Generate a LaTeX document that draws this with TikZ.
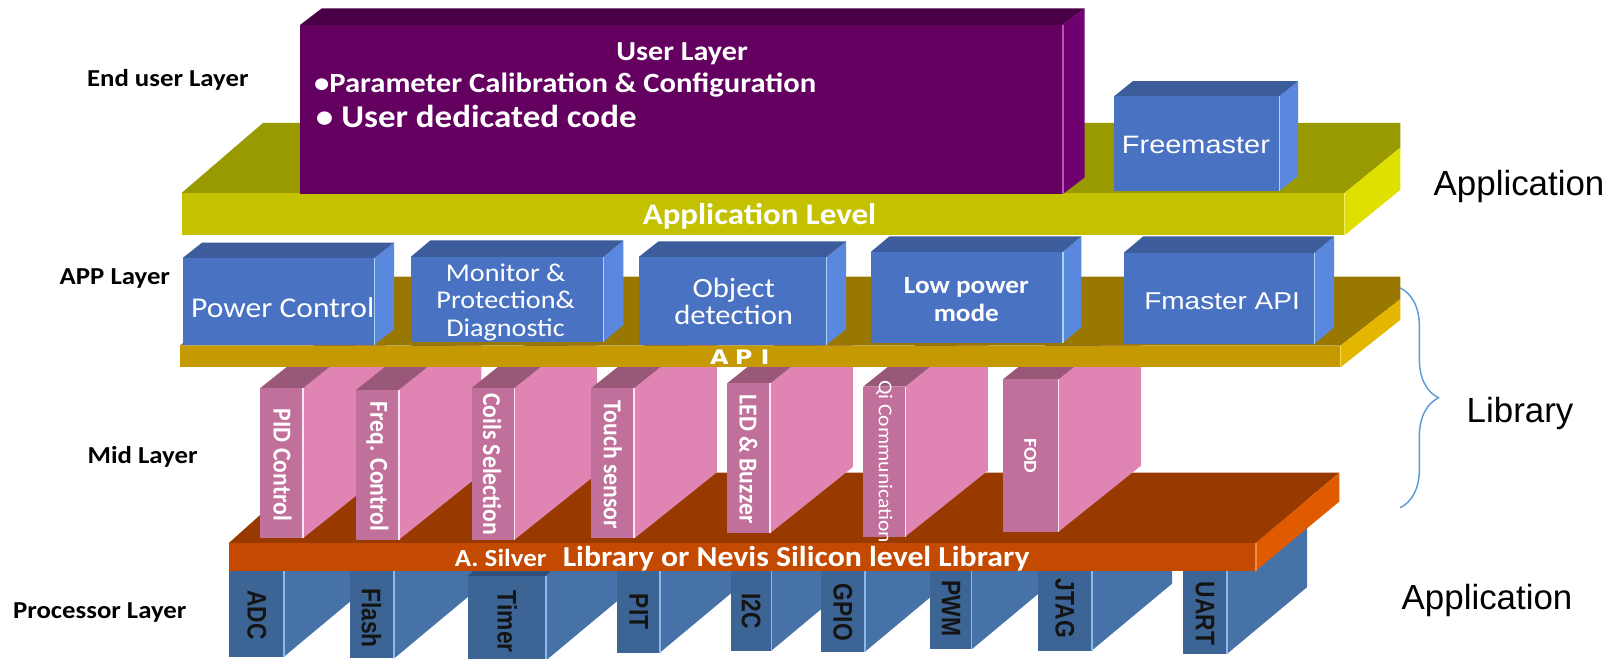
\documentclass[tikz,border=0pt]{standalone}
\usepackage{fontspec}
\setmainfont{Carlito}
\newfontfamily\calw[FakeStretch=1.1]{Carlito}
\newfontfamily\caln[FakeStretch=0.92]{Carlito}
\newfontfamily\ariw[FakeStretch=1.15]{Liberation Sans}
\newfontfamily\arin[FakeStretch=0.85]{Liberation Sans}
\newfontfamily\ari{Liberation Sans}
\newfontfamily\dejw[FakeStretch=1.2]{DejaVu Sans}
\usetikzlibrary{decorations.pathreplacing}

% face colours: front / top / side / front-right edge highlight
\definecolor{procF}{HTML}{3C6494}\definecolor{procT}{HTML}{2F5078}
\definecolor{procS}{HTML}{4672A8}\definecolor{procE}{HTML}{8DB8E8}
\definecolor{orF}{HTML}{C34A00}\definecolor{orT}{HTML}{983A00}
\definecolor{orS}{HTML}{E05A00}\definecolor{orE}{HTML}{F08A40}
\definecolor{pinkF}{HTML}{C0709A}\definecolor{pinkT}{HTML}{9A5878}
\definecolor{pinkS}{HTML}{E085B3}\definecolor{pinkE}{HTML}{FFE6F5}
\definecolor{apiF}{HTML}{C49A00}\definecolor{apiT}{HTML}{987800}
\definecolor{apiS}{HTML}{E4B600}\definecolor{apiE}{HTML}{F5D850}
\definecolor{bluF}{HTML}{4A72C2}\definecolor{bluT}{HTML}{3C5C9C}
\definecolor{bluS}{HTML}{5A88DE}\definecolor{bluE}{HTML}{A8D4F4}
\definecolor{yelF}{HTML}{C4C200}\definecolor{yelT}{HTML}{999900}
\definecolor{yelS}{HTML}{E0E000}\definecolor{yelE}{HTML}{EEEE60}
\definecolor{purF}{HTML}{640060}\definecolor{purT}{HTML}{4A0046}
\definecolor{purS}{HTML}{700070}\definecolor{purE}{HTML}{C050C0}
\definecolor{bracecol}{HTML}{5B9BD5}
\definecolor{proctext}{HTML}{141414}

% a block: x-left, x-right, y-top, y-bottom, depth dx, depth dy
% uses the current colours pf (front), pt (top), ps (side), pe (edge)
\newcommand{\prism}[6]{%
  \fill[ps] (#2,#3) -- ({#2+#5},{#3+#6}) -- ({#2+#5},{#4+#6}) -- (#2,#4) -- cycle;
  \fill[pt] (#1,#3) -- ({#1+#5},{#3+#6}) -- ({#2+#5},{#3+#6}) -- (#2,#3) -- cycle;
  \fill[pf] (#1,#3) rectangle (#2,#4);
  \draw[pe, line width=0.8pt] (#2,#3) -- (#2,#4);
}
\newcommand{\usefaces}[4]{\colorlet{pf}{#1}\colorlet{pt}{#2}\colorlet{ps}{#3}\colorlet{pe}{#4}}

\tikzset{
  sidelbl/.style={inner sep=0pt, anchor=west, font=\calw\bfseries\fontsize{11.8}{14}\selectfont},
  tierlbl/.style={inner sep=0pt, anchor=base west, font=\ari\fontsize{16.9}{20}\selectfont},
  wtxt/.style={inner sep=0pt, text=white},
  pinklbl/.style={wtxt, rotate=-90, font=\caln\bfseries\fontsize{12.5}{14}\selectfont},
  proclbl/.style={inner sep=0pt, rotate=-90, text=proctext, font=\arin\bfseries\fontsize{13}{15}\selectfont},
  bracestyle/.style={decorate, decoration={brace, amplitude=18.5pt}, draw=bracecol, line width=0.7pt},
}

\begin{document}
\begin{tikzpicture}[x=0.5pt,y=-0.5pt]
\fill[white] (0,0) rectangle (1568,638.6);
\useasboundingbox (0,0) rectangle (1568,638.6);

% ---- processor layer blocks
\usefaces{procF}{procT}{procS}{procE}
\prism{222}{275.2}{552}{636.4}{78}{-65}
\prism{338.8}{382}{552}{638}{78}{-65}
\prism{453.4}{529.1}{558}{640}{78}{-65}
\prism{598.3}{639.4}{552}{632.5}{78}{-65}
\prism{708.7}{747.6}{552}{630.5}{78}{-65}
\prism{795.2}{838.4}{552}{631.4}{78}{-65}
\prism{901.3}{941.6}{552}{629.3}{78}{-65}
\prism{1006.2}{1058}{552}{630.5}{78}{-65}
\prism{1146.7}{1188.8}{552}{633.9}{78}{-65}

% ---- silicon library slab
\fill[orT] (222,526) -- (298,458) -- (1298,458) -- (1217,526) -- cycle;
\fill[orS] (1217,526) -- (1298,458) -- (1298,486) -- (1217,553) -- cycle;
\fill[orF] (222,526) rectangle (1217,553);
\draw[orE, line width=0.8pt] (1217,526) -- (1217,553);

% ---- mid layer blocks
\usefaces{pinkF}{pinkT}{pinkS}{pinkE}
\prism{252}{293.5}{376.3}{521.7}{80}{-64}
\prism{345}{386.5}{378}{523}{80}{-64}
\prism{457}{498.7}{376}{523}{80}{-64}
\prism{573.2}{614.7}{376}{521.7}{80}{-64}
\prism{704.6}{746.5}{371.5}{516.6}{80}{-64}
\prism{836.6}{877.4}{374.6}{520}{80}{-64}
\prism{972}{1025.8}{367.6}{515.2}{80}{-64}

% ---- API slab (top face first, blocks sit on it)
\fill[apiT] (174,335) -- (260,268) -- (1357,268) -- (1357,290) -- (1299,335) -- cycle;
\usefaces{bluF}{bluT}{bluS}{bluE}
\prism{177}{363}{250}{334}{19}{-15}
\prism{398}{585}{249}{331}{19}{-16}
\prism{619}{801}{249}{334}{19}{-15}
\prism{844}{1030}{244}{332}{18}{-15}
\prism{1089}{1274}{245}{333}{19}{-16}
\fill[apiS] (1299,335) -- (1357,290) -- (1357,310) -- (1299,356) -- cycle;
\fill[apiF] (174,335) rectangle (1299,356);
\draw[apiE, line width=0.8pt] (1299,335) -- (1299,356);

% ---- application level slab
\fill[yelT] (176,187) -- (255,119) -- (1357,119) -- (1357,143) -- (1303,187) -- cycle;
\fill[yelS] (1303,187) -- (1357,143) -- (1357,184) -- (1303,228) -- cycle;
\fill[yelF] (176,187) rectangle (1303,228);
\draw[yelE, line width=0.8pt] (1303,187) -- (1303,228);

% ---- user layer and Freemaster blocks
\usefaces{purF}{purT}{purS}{purE}
\prism{291}{1030}{24}{188}{21}{-16}
\usefaces{bluF}{bluT}{bluS}{bluE}
\prism{1080}{1240}{93}{185}{18}{-14.5}

% ---- texts inside the blocks
\node[wtxt, font=\calw\bfseries\fontsize{13.3}{16}\selectfont] (userLayer) at (661,51.7) {User Layer};
\node[wtxt, anchor=west, font=\calw\bfseries\fontsize{13.5}{16}\selectfont] (paramCal) at (304,82.4) {•Parameter Calibration \& Configuration};
\node[wtxt, anchor=west, font=\calw\bfseries\fontsize{15.4}{18}\selectfont] (userCode) at (305.8,113) {• User dedicated code};
\node[wtxt, font=\ariw\fontsize{12.2}{14}\selectfont] (freemaster) at (1159,140.5) {Freemaster};
\node[wtxt, font=\calw\bfseries\fontsize{14.5}{17}\selectfont] (appLevel) at (736,210) {Application Level};

\node[wtxt, font=\calw\fontsize{13.9}{16}\selectfont] (powerCtl) at (274,297.8) {Power Control};
\node[wtxt, align=center, font=\calw\fontsize{12.4}{13.3}\selectfont] (monitor) at (490,293) {Monitor \&\\Protection\&\\Diagnostic};
\node[wtxt, align=center, font=\calw\fontsize{13.5}{13}\selectfont] (objDet) at (711,292.4) {Object\\detection};
\node[wtxt, align=center, font=\calw\bfseries\fontsize{12}{13.7}\selectfont] (lowPower) at (936.5,290) {Low power\\mode};
\node[wtxt, font=\ariw\fontsize{11.8}{14}\selectfont] (fmasterApi) at (1184.3,292.3) {Fmaster API};
\node[wtxt, font=\dejw\bfseries\fontsize{9.7}{12}\selectfont] (apiBar) at (717,346) {A\hspace{3pt}P\hspace{4pt}I};

\node[pinklbl] (pid) at (273.8,450.6) {PID Control};
\node[pinklbl] (freq) at (365.7,452) {Freq. Control};
\node[pinklbl] (coils) at (477,449.7) {Coils Selection};
\node[pinklbl] (touch) at (594,450.6) {Touch sensor};
\node[pinklbl] (ledBuz) at (725.4,444.8) {LED \& Buzzer};
\node[pinklbl, font=\calw\fontsize{9.5}{11}\selectfont] (qiCom) at (857,447.4) {Qi Communication};
\node[pinklbl, font=\calw\bfseries\fontsize{8.8}{10}\selectfont] (fod) at (998.5,441.7) {FOD};

\node[wtxt, anchor=base west, font=\calw\bfseries\fontsize{11.9}{14}\selectfont] (silver) at (440.4,548.5) {A. Silver};
\node[wtxt, anchor=base west, font=\calw\bfseries\fontsize{14}{16}\selectfont] (nevis) at (545,548.5) {Library or Nevis Silicon level Library};

\node[proclbl] (adc) at (248.8,596) {ADC};
\node[proclbl] (flash) at (360,599) {Flash};
\node[proclbl] (timer) at (491.5,602.5) {Timer};
\node[proclbl] (pit) at (619,592.8) {PIT};
\node[proclbl] (itwoc) at (728,592) {I2C};
\node[proclbl] (gpio) at (816.8,593.4) {GPIO};
\node[proclbl] (pwm) at (921.6,589.8) {PWM};
\node[proclbl] (jtag) at (1032,589.7) {JTAG};
\node[proclbl] (uart) at (1167.8,594.5) {UART};

% ---- layer names on the left
\node[sidelbl] (endUser) at (84,77.7) {End user Layer};
\node[sidelbl] (appLayer) at (57.5,269.5) {APP Layer};
\node[sidelbl] (midLayer) at (84.6,442.3) {Mid Layer};
\node[sidelbl] (procLayer) at (12.3,594) {Processor Layer};

% ---- tiers on the right
\node[tierlbl] (tierAppTop) at (1389,189) {Application};
\node[tierlbl] (tierLib) at (1421,409) {Library};
\node[tierlbl] (tierAppBot) at (1358,591) {Application};
\coordinate (braceTop) at (1357,279);
\coordinate (braceBot) at (1357,492);
\draw[bracestyle] (braceTop) -- (braceBot);
\end{tikzpicture}
\end{document}
